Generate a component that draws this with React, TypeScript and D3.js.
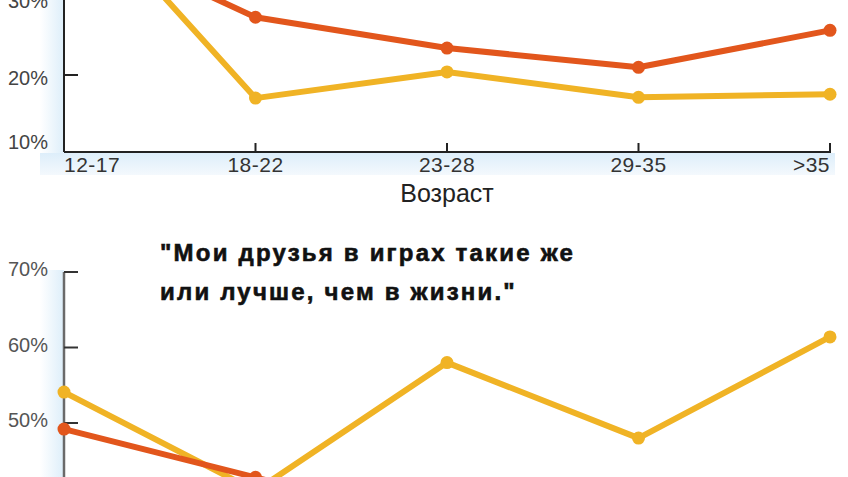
import { useEffect, useRef } from "react";
import * as d3 from "d3";

const ageGroups = ["12-17", "18-22", "23-28", "29-35", ">35"];

// top chart (cropped at the top of the picture)
const topRed = [39, 27.5, 23.5, 21, 25.8];
const topYellow = [44.5, 17, 20.4, 17.1, 17.5];
const topTicks = [10, 20, 30];

// bottom chart (cropped at the bottom of the picture)
const bottomRed = [49.2, 42.8, 36, 34, 38];
const bottomYellow = [54.1, 41, 58, 48, 61.4];
const bottomTicks = [50, 60, 70];

const titleLines = ["\"Мои друзья в играх такие же", "или лучше, чем в жизни.\""];
const xTitle = "Возраст";

const RED = "#e2561c";
const YELLOW = "#f0b325";

export default function App() {
  const ref = useRef<HTMLDivElement>(null);

  useEffect(() => {
    const W = 848;
    const H = 477;
    const svg = d3
      .select(ref.current)
      .html("")
      .append("svg")
      .attr("width", W)
      .attr("height", H)
      .style("display", "block")
      .style("font-family", "'Liberation Sans', Arial, sans-serif");

    const defs = svg.append("defs");
    const vg = defs
      .append("linearGradient")
      .attr("id", "vband")
      .attr("x1", 0)
      .attr("x2", 1)
      .attr("y1", 0)
      .attr("y2", 0);
    vg.append("stop").attr("offset", 0).attr("stop-color", "#ffffff");
    vg.append("stop").attr("offset", 1).attr("stop-color", "#ddeefa");
    const hg = defs
      .append("linearGradient")
      .attr("id", "hband")
      .attr("x1", 0)
      .attr("x2", 0)
      .attr("y1", 0)
      .attr("y2", 1);
    hg.append("stop").attr("offset", 0).attr("stop-color", "#ddeefa");
    hg.append("stop").attr("offset", 1).attr("stop-color", "#f4f9fd");

    const x = d3.scalePoint<string>().domain(ageGroups).range([64, 830]);

    // ---------- top chart ----------
    const yTop = d3.scaleLinear().domain([10, 30]).range([152, -2]);
    const top = svg.append("g");
    top
      .append("rect")
      .attr("x", 40)
      .attr("y", 0)
      .attr("width", 24)
      .attr("height", 175)
      .attr("fill", "url(#vband)");
    top
      .append("rect")
      .attr("x", 40)
      .attr("y", 153)
      .attr("width", 795)
      .attr("height", 22)
      .attr("fill", "url(#hband)");

    // axes
    top
      .append("line")
      .attr("x1", 64)
      .attr("x2", 64)
      .attr("y1", -10)
      .attr("y2", yTop(10))
      .attr("stroke", "#222")
      .attr("stroke-width", 2);
    top
      .append("line")
      .attr("x1", 64)
      .attr("x2", 831)
      .attr("y1", yTop(10))
      .attr("y2", yTop(10))
      .attr("stroke", "#222")
      .attr("stroke-width", 2);
    top
      .selectAll(".ytick")
      .data(topTicks)
      .join("line")
      .attr("x1", 64)
      .attr("x2", 78)
      .attr("y1", (d) => yTop(d))
      .attr("y2", (d) => yTop(d))
      .attr("stroke", "#222")
      .attr("stroke-width", 2);
    top
      .selectAll(".ylab")
      .data(topTicks)
      .join("text")
      .attr("x", 48)
      .attr("y", (d) => yTop(d) + (d === 10 ? -8 : 5))
      .attr("text-anchor", "end")
      .attr("dominant-baseline", "middle")
      .attr("font-size", 20)
      .attr("fill", "#444")
      .text((d) => `${d}%`);
    top
      .selectAll(".xtick")
      .data(ageGroups.slice(1))
      .join("line")
      .attr("x1", (d) => x(d)!)
      .attr("x2", (d) => x(d)!)
      .attr("y1", yTop(10) - 9)
      .attr("y2", yTop(10))
      .attr("stroke", "#222")
      .attr("stroke-width", 2);
    top
      .selectAll(".xlab")
      .data(ageGroups)
      .join("text")
      .attr("x", (d) => x(d)!)
      .attr("y", 166)
      .attr("text-anchor", (d, i) =>
        i === 0 ? "start" : i === ageGroups.length - 1 ? "end" : "middle"
      )
      .attr("dominant-baseline", "middle")
      .attr("font-size", 21)
      .attr("letter-spacing", 0.5)
      .attr("fill", "#333")
      .text((d) => d);
    top
      .append("text")
      .attr("x", x("23-28")!)
      .attr("y", 195)
      .attr("text-anchor", "middle")
      .attr("dominant-baseline", "middle")
      .attr("font-size", 25)
      .attr("fill", "#222")
      .text(xTitle);

    const drawSeries = (
      g: d3.Selection<SVGGElement, unknown, null, undefined>,
      values: number[],
      y: d3.ScaleLinear<number, number>,
      color: string
    ) => {
      const pts = values.map((v, i) => [x(ageGroups[i])!, y(v)] as [number, number]);
      g.append("path")
        .datum(pts)
        .attr("fill", "none")
        .attr("stroke", color)
        .attr("stroke-width", 6)
        .attr("stroke-linejoin", "round")
        .attr("d", d3.line());
      g.selectAll(null)
        .data(pts)
        .join("circle")
        .attr("cx", (d) => d[0])
        .attr("cy", (d) => d[1])
        .attr("r", 6.5)
        .attr("fill", color);
    };

    const topClip = defs.append("clipPath").attr("id", "topclip");
    topClip.append("rect").attr("x", 0).attr("y", 0).attr("width", W).attr("height", 160);
    const topLines = top.append("g").attr("clip-path", "url(#topclip)");
    drawSeries(topLines.append("g"), topYellow, yTop, YELLOW);
    drawSeries(topLines.append("g"), topRed, yTop, RED);

    // ---------- bottom chart ----------
    const yBot = d3.scaleLinear().domain([50, 70]).range([423, 272]);
    const bot = svg.append("g");
    bot
      .append("rect")
      .attr("x", 40)
      .attr("y", 270)
      .attr("width", 24)
      .attr("height", H - 270)
      .attr("fill", "url(#vband)");
    bot
      .append("line")
      .attr("x1", 64)
      .attr("x2", 64)
      .attr("y1", yBot(70))
      .attr("y2", H + 10)
      .attr("stroke", "#6a6a6a")
      .attr("stroke-width", 2.5);
    bot
      .selectAll(".ytick")
      .data(bottomTicks)
      .join("line")
      .attr("x1", 64)
      .attr("x2", 78)
      .attr("y1", (d) => yBot(d))
      .attr("y2", (d) => yBot(d))
      .attr("stroke", "#333")
      .attr("stroke-width", 2);
    bot
      .selectAll(".ylab")
      .data(bottomTicks)
      .join("text")
      .attr("x", 48)
      .attr("y", (d) => yBot(d) - 1)
      .attr("text-anchor", "end")
      .attr("dominant-baseline", "middle")
      .attr("font-size", 20)
      .attr("fill", "#555")
      .text((d) => `${d}%`);
    bot
      .selectAll(".title")
      .data(titleLines)
      .join("text")
      .attr("x", 160)
      .attr("y", (d, i) => 255 + i * 39)
      .attr("dominant-baseline", "middle")
      .attr("font-size", 24)
      .attr("font-weight", "bold")
      .attr("letter-spacing", 2.2)
      .attr("fill", "#111")
      .attr("stroke", "#111")
      .attr("stroke-width", 0.6)
      .text((d) => d);

    drawSeries(bot.append("g"), bottomYellow, yBot, YELLOW);
    drawSeries(bot.append("g"), bottomRed, yBot, RED);
  }, []);

  return (
    <div
      ref={ref}
      style={{ position: "fixed", left: 0, top: 0, width: 848, height: 477, background: "#fff" }}
    />
  );
}
